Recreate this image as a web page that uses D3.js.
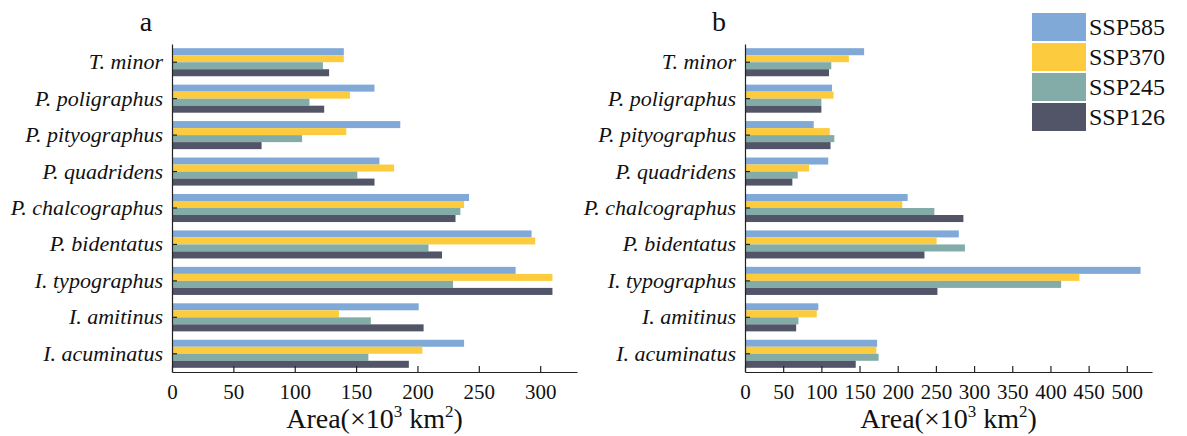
<!DOCTYPE html>
<html>
<head>
<meta charset="utf-8">
<script src="https://cdn.jsdelivr.net/npm/d3@7"></script>
<style>
  body { margin: 0; background: #fff; }
  svg text { font-family: "Liberation Serif", "Times New Roman", Times, "DejaVu Serif", serif !important; }
  .ylab { font-style: italic; }
</style>
</head>
<body>
<main></main>
<script>
const width = 1187
const height = 436

const species = ['T. minor', 'P. poligraphus', 'P. pityographus', 'P. quadridens',
  'P. chalcographus', 'P. bidentatus', 'I. typographus', 'I. amitinus', 'I. acuminatus']
const scenarios = ['SSP585', 'SSP370', 'SSP245', 'SSP126']
const colors = ['#80a9d7', '#fdcc3e', '#83aca9', '#525467']

// panel a values, one array per scenario, in species order
const ssp585A = [140, 165, 186, 169, 242, 293, 280, 201, 238]
const ssp370A = [140, 145, 142, 181, 238, 296, 310, 136, 204]
const ssp245A = [123, 112, 106, 151, 235, 209, 229, 162, 160]
const ssp126A = [128, 124, 73, 165, 231, 220, 310, 205, 193]

// panel b values
const ssp585B = [156, 114, 90, 109, 213, 280, 518, 96, 173]
const ssp370B = [136, 116, 111, 84, 206, 251, 438, 94, 172]
const ssp245B = [113, 100, 117, 69, 248, 288, 414, 70, 175]
const ssp126B = [110, 100, 112, 62, 286, 235, 252, 67, 145]

const ticksA = [0, 50, 100, 150, 200, 250, 300]
const ticksB = [0, 50, 100, 150, 200, 250, 300, 350, 400, 450, 500]

const svg = d3.select('main')
  .append('svg')
  .attr('width', width)
  .attr('height', height)

const plotTop = 44
const plotBottom = 372

const drawPanel = (opts) => {
  const series = opts.series
  const x = d3.scaleLinear().domain([0, opts.max]).range([opts.x0, opts.x1])
  const y = d3.scaleBand().domain(species).range([plotTop, plotBottom])
    .paddingInner(0.23).paddingOuter(0.115)
  const yInner = d3.scaleBand().domain(scenarios).range([0, y.bandwidth()])

  const g = svg.append('g')

  scenarios.forEach((s, k) => {
    g.selectAll('rect.s' + k)
      .data(series[k])
      .enter()
      .append('rect')
      .attr('class', 's' + k)
      .attr('x', x(0))
      .attr('y', (d, i) => y(species[i]) + yInner(s))
      .attr('width', d => x(d) - x(0))
      .attr('height', yInner.bandwidth())
      .attr('fill', colors[k])
  })

  // x axis, ticks pointing inward
  const xa = g.append('g')
    .attr('transform', `translate(0, ${plotBottom})`)
    .call(d3.axisBottom(x).tickValues(opts.ticks).tickSizeInner(-6).tickSizeOuter(0).tickPadding(12))
  xa.attr('font-family', null)
  xa.selectAll('text').attr('font-size', 21).attr('fill', '#111')
  xa.selectAll('line, path').attr('stroke', '#222').attr('stroke-width', 1.2)

  const ya = g.append('g')
    .attr('transform', `translate(${opts.x0}, 0)`)
    .call(d3.axisLeft(y).tickSizeInner(-5).tickSizeOuter(0).tickPadding(9))
  ya.attr('font-family', null)
  ya.selectAll('text').attr('font-size', 22).attr('fill', '#111').attr('class', 'ylab')
  ya.selectAll('line, path').attr('stroke', '#222').attr('stroke-width', 1.2)

  const title = g.append('text')
    .attr('x', (opts.x0 + opts.x1) / 2)
    .attr('y', 428)
    .attr('text-anchor', 'middle')
    .attr('font-size', 28)
    .attr('fill', '#111')
  title.append('tspan').text('Area(×10')
  title.append('tspan').attr('font-size', 17).attr('dy', -11).text('3')
  title.append('tspan').attr('dy', 11).text(' km')
  title.append('tspan').attr('font-size', 17).attr('dy', -11).text('2')
  title.append('tspan').attr('dy', 11).text(')')

  g.append('text')
    .attr('x', opts.labelX)
    .attr('y', 31)
    .attr('text-anchor', 'middle')
    .attr('font-size', 28)
    .attr('fill', '#111')
    .text(opts.label)
}

drawPanel({
  series: [ssp585A, ssp370A, ssp245A, ssp126A],
  max: 330, ticks: ticksA, x0: 172, x1: 577, label: 'a', labelX: 146
})
drawPanel({
  series: [ssp585B, ssp370B, ssp245B, ssp126B],
  max: 533, ticks: ticksB, x0: 745, x1: 1152, label: 'b', labelX: 719
})

// legend
const legend = svg.append('g').attr('transform', 'translate(1032, 13)')
scenarios.forEach((s, k) => {
  legend.append('rect')
    .attr('x', 0)
    .attr('y', k * 30)
    .attr('width', 54)
    .attr('height', 28)
    .attr('fill', colors[k])
  legend.append('text')
    .attr('x', 57)
    .attr('y', k * 30 + 22)
    .attr('font-size', 24)
    .attr('fill', '#111')
    .text(s)
})
</script>
</body>
</html>
